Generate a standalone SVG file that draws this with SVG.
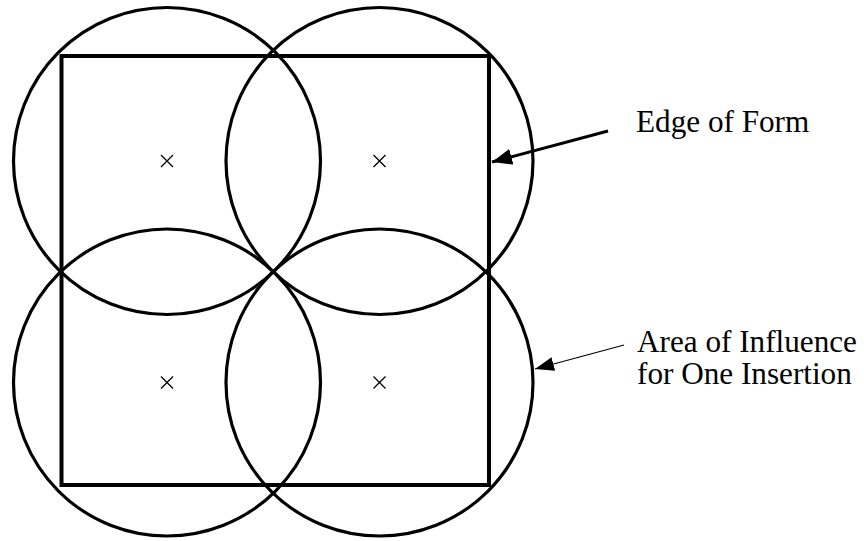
<svg xmlns="http://www.w3.org/2000/svg" width="864" height="541" viewBox="0 0 864 541">
<style>
.c{fill:none;stroke:#000;stroke-width:3.2}
.sq{fill:none;stroke:#000;stroke-width:4}
.x{stroke:#000;stroke-width:1.3}
.t{font-family:"Liberation Serif","Times New Roman",serif;font-size:31.2px;fill:#000}
</style>
<defs>
<marker id="ah" markerUnits="userSpaceOnUse" markerWidth="22" markerHeight="18" refX="20" refY="8" orient="auto" viewBox="0 0 22 16">
<path d="M0,0 L20,8 L0,16 z" fill="#000"/>
</marker>
<marker id="ah2" markerUnits="userSpaceOnUse" markerWidth="20" markerHeight="16" refX="19" refY="7" orient="auto" viewBox="0 0 20 14">
<path d="M0,0 L19,7 L0,14 z" fill="#000"/>
</marker>
</defs>
<rect width="864" height="541" fill="#fff"/>
<g id="circle-tl"><circle class="c" cx="167" cy="161" r="153.5"/><path class="x" d="M161,155 L173,167 M173,155 L161,167"/></g>
<g id="circle-tr"><circle class="c" cx="379.5" cy="161" r="153.5"/><path class="x" d="M373.5,155 L385.5,167 M385.5,155 L373.5,167"/></g>
<g id="circle-bl"><circle class="c" cx="167" cy="382.5" r="153.5"/><path class="x" d="M161,376.5 L173,388.5 M173,376.5 L161,388.5"/></g>
<g id="circle-br"><circle class="c" cx="379.5" cy="382.5" r="153.5"/><path class="x" d="M373.5,376.5 L385.5,388.5 M385.5,376.5 L373.5,388.5"/></g>
<g id="form"><rect class="sq" x="61.5" y="56" width="427.5" height="429"/></g>
<g id="connectors">
<line x1="608" y1="131" x2="492" y2="162" stroke="#000" stroke-width="3" marker-end="url(#ah)"/>
<line x1="624" y1="345" x2="535" y2="369" stroke="#000" stroke-width="1.2" marker-end="url(#ah2)"/>
</g>
<g id="label-edge"><text class="t" x="636" y="132">Edge of Form</text></g>
<g id="label-area"><text class="t" x="637" y="352">Area of Influence</text><text class="t" x="637" y="384">for One Insertion</text></g>
</svg>
